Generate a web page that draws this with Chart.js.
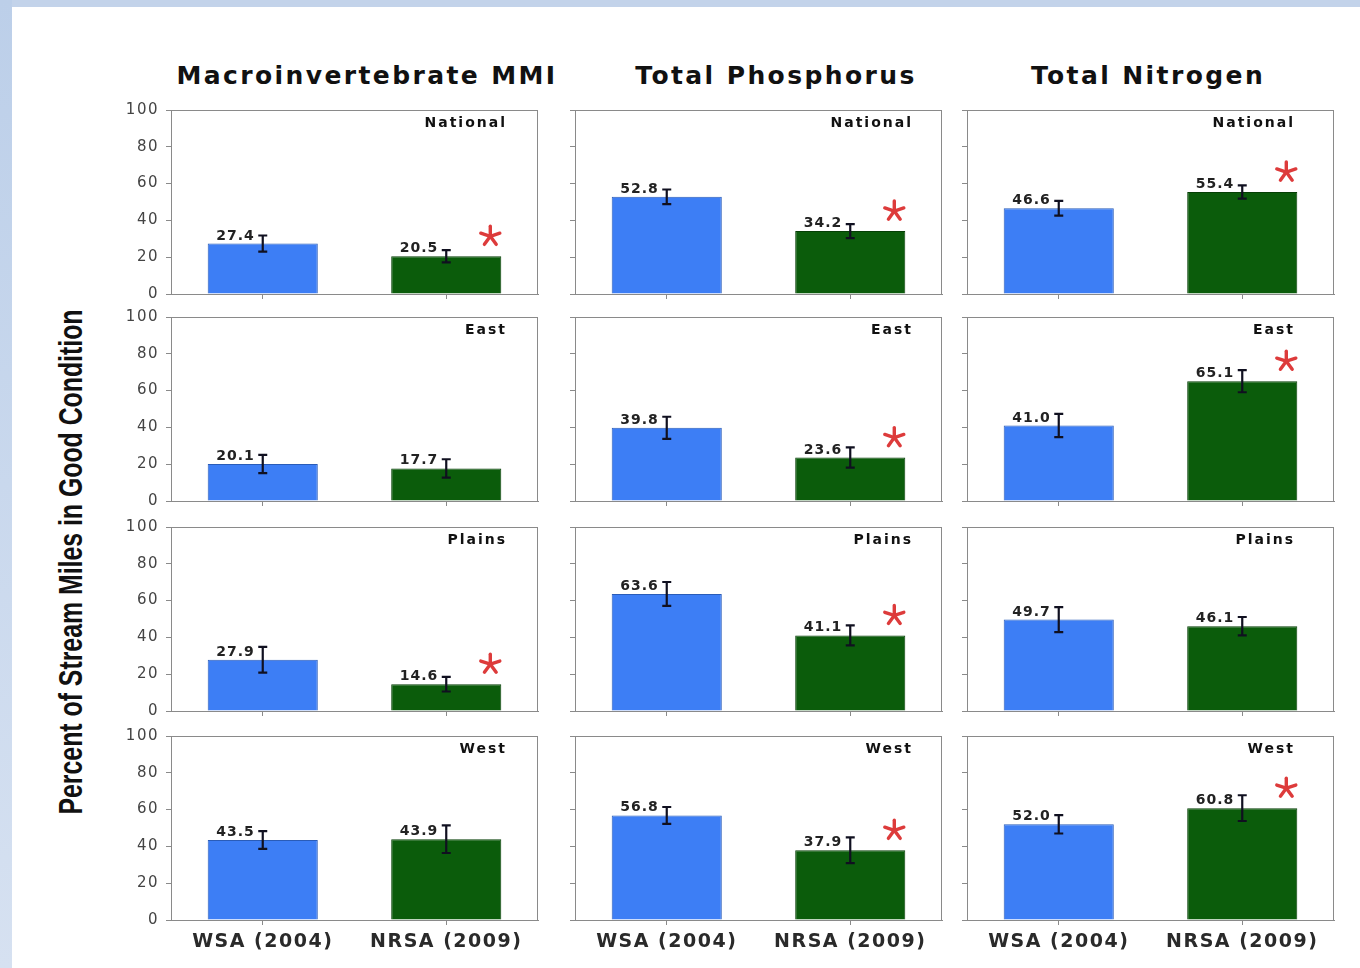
<!DOCTYPE html>
<html lang="en">
<head>
    <meta charset="UTF-8">
    <title>Percent of Stream Miles in Good Condition</title>
    <script src="https://cdn.jsdelivr.net/npm/chart.js"></script>
    <style>
        body { margin: 0; width: 1360px; height: 968px; background: #fff; position: relative; overflow: hidden; font-family: "DejaVu Sans", sans-serif; }
        .strip-top { position: absolute; left: 0; top: 0; width: 1360px; height: 7px; background: #c3d3ea; }
        .strip-left { position: absolute; left: 0; top: 0; width: 12px; height: 968px; background: linear-gradient(#bccfe9, #d6e1f1); }
        .col-title { position: absolute; top: 61px; transform: translateX(-50%); font-weight: bold; font-size: 25px; letter-spacing: 2.4px; color: #111; white-space: nowrap; }
        .y-title { position: absolute; left: 71px; top: 562px; font-family: "Liberation Sans", Arial, sans-serif; font-weight: bold; font-size: 33px; color: #111; white-space: nowrap; }
        canvas { position: absolute; }
    </style>
</head>
<body>
    <div class="strip-top"></div>
    <div class="strip-left"></div>
    <div class="y-title" id="ytitle">Percent of Stream Miles in Good Condition</div>

    <script>
        // Data
        const categories = ['WSA (2004)', 'NRSA (2009)'];
        const indicators = ['Macroinvertebrate MMI', 'Total Phosphorus', 'Total Nitrogen'];
        const regions = ['National', 'East', 'Plains', 'West'];
        const yTicks = [0, 20, 40, 60, 80, 100];

        const mmiWsa = [27.4, 20.1, 27.9, 43.5];
        const mmiNrsa = [20.5, 17.7, 14.6, 43.9];
        const mmiWsaErr = [4.4, 5.0, 7.0, 4.8];
        const mmiNrsaErr = [3.3, 5.0, 4.0, 7.5];
        const mmiChanged = [true, false, true, false];

        const tpWsa = [52.8, 39.8, 63.6, 56.8];
        const tpNrsa = [34.2, 23.6, 41.1, 37.9];
        const tpWsaErr = [4.0, 6.0, 6.5, 4.6];
        const tpNrsaErr = [3.8, 5.5, 5.4, 7.0];
        const tpChanged = [true, true, true, true];

        const tnWsa = [46.6, 41.0, 49.7, 52.0];
        const tnNrsa = [55.4, 65.1, 46.1, 60.8];
        const tnWsaErr = [4.0, 6.3, 6.8, 5.0];
        const tnNrsaErr = [3.6, 6.0, 5.0, 7.0];
        const tnChanged = [true, true, false, true];

        const wsaColor = '#3d7ef5';
        const nrsaColor = '#0b5c0b';

        // layout of the 3 x 4 grid of plot areas
        const colLeft = [171, 575, 967];
        const colCenter = [367, 776, 1148];
        const rowTop = [110, 317, 527, 736];
        const regionInset = [31, 29, 39];
        const plotW = 367, plotH = 184;
        const padL = 60, padT = 10, padR = 8;

        const columns = [
            { wsa: mmiWsa, nrsa: mmiNrsa, wErr: mmiWsaErr, nErr: mmiNrsaErr, star: mmiChanged },
            { wsa: tpWsa, nrsa: tpNrsa, wErr: tpWsaErr, nErr: tpNrsaErr, star: tpChanged },
            { wsa: tnWsa, nrsa: tnNrsa, wErr: tnWsaErr, nErr: tnNrsaErr, star: tnChanged }
        ];

        indicators.forEach((name, c) => {
            const t = document.createElement('div');
            t.className = 'col-title';
            t.style.left = colCenter[c] + 'px';
            t.textContent = name;
            document.body.appendChild(t);
        });

        // squeeze the axis title to the narrow look of the original
        const yt = document.getElementById('ytitle');
        const sx = 505 / yt.offsetWidth;
        yt.style.transform = 'translate(-50%, -50%) rotate(-90deg) scaleX(' + sx + ')';

        function drawStar(ctx, x, y, r) {
            ctx.save();
            ctx.strokeStyle = '#dd3b3b';
            ctx.lineWidth = 3.4;
            ctx.lineCap = 'round';
            for (let k = 0; k < 5; k++) {
                const a = -Math.PI / 2 + k * 2 * Math.PI / 5;
                ctx.beginPath();
                ctx.moveTo(x, y);
                ctx.lineTo(x + r * Math.cos(a), y + r * Math.sin(a));
                ctx.stroke();
            }
            ctx.restore();
        }

        const extras = {
            id: 'extras',
            beforeDraw(chart) {
                chart.ctx.letterSpacing = '1.5px';
            },
            afterDatasetsDraw(chart) {
                const ctx = chart.ctx;
                const opts = chart.options.plugins.extras;
                const a = chart.chartArea;
                const ys = chart.scales.y;
                const ds = chart.data.datasets[0];
                ctx.save();
                ctx.letterSpacing = '1px';
                // frame
                ctx.strokeStyle = '#8a8a8a';
                ctx.lineWidth = 1;
                ctx.strokeRect(a.left + 0.5, a.top + 0.5, a.right - a.left - 1, a.bottom - a.top);

                chart.getDatasetMeta(0).data.forEach((bar, i) => {
                    const v = ds.data[i], e = ds.errors[i];
                    const yHi = ys.getPixelForValue(v + e);
                    const yLo = ys.getPixelForValue(v - e);
                    ctx.strokeStyle = '#101020';
                    ctx.lineWidth = 2.2;
                    ctx.beginPath();
                    ctx.moveTo(bar.x, yHi); ctx.lineTo(bar.x, yLo);
                    ctx.moveTo(bar.x - 4.5, yHi); ctx.lineTo(bar.x + 4.5, yHi);
                    ctx.moveTo(bar.x - 4.5, yLo); ctx.lineTo(bar.x + 4.5, yLo);
                    ctx.stroke();

                    ctx.fillStyle = '#222';
                    ctx.font = 'bold 14px "DejaVu Sans"';
                    ctx.textAlign = 'right';
                    ctx.textBaseline = 'alphabetic';
                    ctx.fillText(v.toFixed(1), bar.x - 8, bar.y - 4);
                });

                // region label
                ctx.letterSpacing = '2px';
                ctx.fillStyle = '#111';
                ctx.font = 'bold 14px "DejaVu Sans"';
                ctx.textAlign = 'right';
                ctx.textBaseline = 'middle';
                ctx.fillText(opts.region, a.right - opts.inset, a.top + 13);

                if (opts.star) {
                    const g = chart.getDatasetMeta(0).data[1];
                    drawStar(ctx, g.x + g.width / 2 - 11, g.y - 20, 10);
                }
                ctx.restore();
            }
        };

        columns.forEach((col, c) => {
            regions.forEach((region, r) => {
                const bottomRow = r === regions.length - 1;
                const xH = bottomRow ? 42 : 10;
                const cv = document.createElement('canvas');
                const w = plotW + padL + padR, h = plotH + padT + xH;
                cv.width = w; cv.height = h;
                cv.style.left = (colLeft[c] - padL) + 'px';
                cv.style.top = (rowTop[r] - padT) + 'px';
                cv.style.width = w + 'px';
                cv.style.height = h + 'px';
                document.body.appendChild(cv);

                new Chart(cv, {
                    type: 'bar',
                    data: {
                        labels: categories,
                        datasets: [{
                            data: [col.wsa[r], col.nrsa[r]],
                            errors: [col.wErr[r], col.nErr[r]],
                            backgroundColor: [wsaColor, nrsaColor],
                            borderColor: ['#2a5cb8', '#063f06'],
                            borderWidth: 1,
                            barPercentage: 0.6,
                            categoryPercentage: 1
                        }]
                    },
                    options: {
                        responsive: false,
                        animation: false,
                        devicePixelRatio: 1,
                        layout: { padding: { top: padT, right: padR, left: 0, bottom: 0 } },
                        plugins: {
                            legend: { display: false },
                            tooltip: { enabled: false },
                            extras: { region: region, star: col.star[r], inset: regionInset[c] }
                        },
                        scales: {
                            x: {
                                offset: true,
                                grid: { offset: false, drawOnChartArea: false, tickLength: 5, color: '#8a8a8a' },
                                border: { color: '#8a8a8a' },
                                ticks: {
                                    display: bottomRow,
                                    color: '#2a2a2a',
                                    padding: 6,
                                    font: { family: 'DejaVu Sans', weight: 'bold', size: 19 }
                                },
                                afterFit: s => { s.height = xH; s.paddingLeft = 0; s.paddingRight = 0; }
                            },
                            y: {
                                min: 0,
                                max: 100,
                                afterBuildTicks: s => { s.ticks = yTicks.map(v => ({ value: v })); },
                                grid: { drawOnChartArea: false, tickLength: 5, color: '#8a8a8a' },
                                border: { color: '#8a8a8a' },
                                ticks: {
                                    color: c === 0 ? '#444' : 'rgba(0,0,0,0)',
                                    padding: 7,
                                    font: { family: 'DejaVu Sans', size: 15 }
                                },
                                afterFit: s => { s.width = padL; s.paddingTop = 0; s.paddingBottom = 0; }
                            }
                        }
                    },
                    plugins: [extras]
                });
            });
        });
    </script>
</body>
</html>
